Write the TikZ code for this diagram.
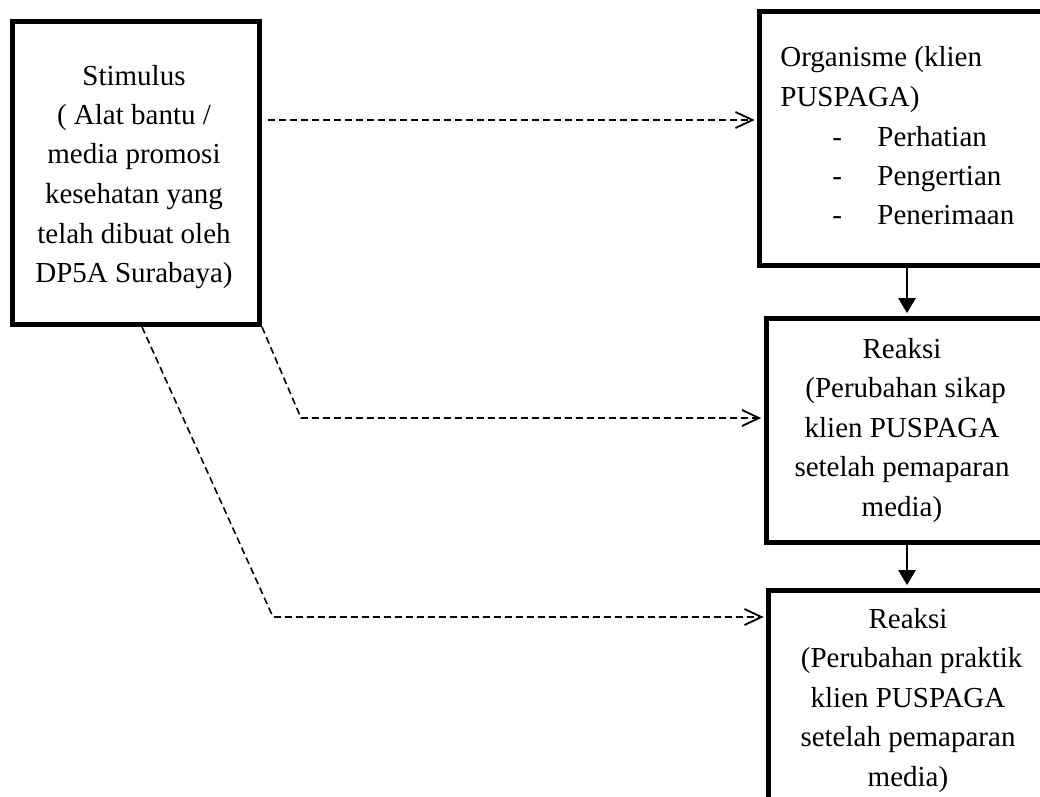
\documentclass[tikz,border=0pt]{standalone}
\usepackage{fontspec}
\setmainfont{Liberation Serif}
\usetikzlibrary{arrows.meta}
\tikzset{
  box/.style={draw, line width=2.5pt, inner sep=0pt, rectangle},
  txt/.style={inner sep=0pt, font=\fontsize{14.5}{19.75}\selectfont},
  dashedarrow/.style={draw, line width=0.8pt, dash pattern=on 3.5pt off 2pt,
    -{Straight Barb[length=8.5pt,width=8pt,line width=0.9pt]}, shorten >=1.2pt},
  solidarrow/.style={draw, line width=1.3pt, -{Triangle[length=7.5pt,width=8.5pt]}, shorten >=1.2pt},
}
\begin{document}
\begin{tikzpicture}[x=0.5pt,y=-0.5pt]
\useasboundingbox (0,0) rectangle (1040,797);
\clip (0,0) rectangle (1040,797);
% boxes
\node[box, minimum width=123.5pt, minimum height=151.5pt] (stim) at (136,173) {};
\node[box, minimum width=150.25pt, minimum height=126.75pt] (org) at (909.75,138.75) {};
\node[box, minimum width=147pt, minimum height=112pt] (r1) at (913,430) {};
\node[box, minimum width=145.75pt, minimum height=120pt] (r2) at (914.25,710) {};
% texts (anchored at the baseline of the last line)
\node[txt, align=center, anchor=base] (stimtxt) at (134,282.5) {Stimulus\\( Alat bantu /\\media promosi\\kesehatan yang\\telah dibuat oleh\\DP5A Surabaya)};
\node[txt, align=left, anchor=base west] (orgtxt) at (780,225) {Organisme (klien\\PUSPAGA)\\\hspace*{26pt}\makebox[22.5pt][l]{-}Perhatian\\\hspace*{26pt}\makebox[22.5pt][l]{-}Pengertian\\\hspace*{26pt}\makebox[22.5pt][l]{-}Penerimaan};
\node[txt, align=center, anchor=base] (r1txt) at (902,516) {Reaksi\\\hspace*{0.25em}(Perubahan sikap\\klien PUSPAGA\\setelah pemaparan\\media)};
\node[txt, align=center, anchor=base] (r2txt) at (908,786) {Reaksi\\\hspace*{0.25em}(Perubahan praktik\\klien PUSPAGA\\setelah pemaparan\\media)};
% helper coordinates
\coordinate (a1) at (0,120);
\coordinate (c2) at (301,418);
\coordinate (c3) at (273,617);
\coordinate (s1) at (907,0);
% dashed connectors
\draw[dashedarrow, shorten <=3pt] (stim.east |- a1) -- (org.west |- a1);
\draw[dashedarrow] (stim.south east) -- (c2) -- (c2 -| r1.west);
\draw[dashedarrow] ([xshift=3pt]stim.south) -- (c3) -- (c3 -| r2.west);
% solid connectors
\draw[solidarrow] (org.south -| s1) -- (r1.north -| s1);
\draw[solidarrow] (r1.south -| s1) -- (r2.north -| s1);
\end{tikzpicture}
\end{document}
